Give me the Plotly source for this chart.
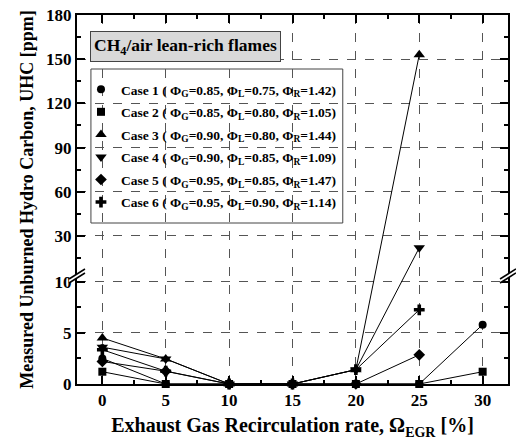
import plotly.graph_objects as go

# ---------------- data ----------------
egr = [0, 5, 10, 15, 20, 25, 30]
case1 = [2.5, 0, 0, 0, 0, 0, 5.8]
case2 = [1.2, 0, 0, 0, 0, 0, 1.2]
case3 = [4.5, 2.45, 0, 0, 1.4, 153, None]
case4 = [3.6, 2.45, 0, 0, 1.4, 22, None]
case5 = [2.2, 1.25, 0, 0, 0, 2.85, None]
case6 = [3.35, 1.25, 0, 0, 1.4, 7.25, None]
names = [
    "Case 1 ( Φ<sub>G</sub>=0.85, Φ<sub>L</sub>=0.75, Φ<sub>R</sub>=1.42)",
    "Case 2 ( Φ<sub>G</sub>=0.85, Φ<sub>L</sub>=0.80, Φ<sub>R</sub>=1.05)",
    "Case 3 ( Φ<sub>G</sub>=0.90, Φ<sub>L</sub>=0.80, Φ<sub>R</sub>=1.44)",
    "Case 4 ( Φ<sub>G</sub>=0.90, Φ<sub>L</sub>=0.85, Φ<sub>R</sub>=1.09)",
    "Case 5 ( Φ<sub>G</sub>=0.95, Φ<sub>L</sub>=0.85, Φ<sub>R</sub>=1.47)",
    "Case 6 ( Φ<sub>G</sub>=0.95, Φ<sub>L</sub>=0.90, Φ<sub>R</sub>=1.14)",
]
symbols = ["circle", "square", "triangle-up", "triangle-down", "diamond", "cross"]
y_major = [0, 5, 10, 30, 60, 90, 120, 150, 180]
y_minor = [2.5, 7.5, 15, 45, 75, 105, 135, 165]
x_ticks = [0, 5, 10, 15, 20, 25, 30]

# ---------------- broken y-axis transform ----------------
W, H = 516, 442
ML, MR, MT, MB = 77, 6, 15, 58
PW, PH = W - ML - MR, H - MT - MB
BREAK_PX = 109          # pixels from bottom where the axis is broken
LOW_MAX = 10.65         # value at top of lower segment
UP_MIN, UP_MAX = 3.5, 180.0


def T(v):
    if v is None:
        return None
    if v <= LOW_MAX:
        return v * BREAK_PX / LOW_MAX
    return BREAK_PX + (v - UP_MIN) * (PH - BREAK_PX) / (UP_MAX - UP_MIN)


FONT = "Liberation Serif"
SIZES = {"circle": 8, "square": 8, "triangle-up": 10, "triangle-down": 10,
         "diamond": 9, "cross": 9}
fig = go.Figure()
series = [case1, case2, case3, case4, case5, case6]
for s, sym, nm in zip(series, symbols, names):
    msize = SIZES[sym]
    fig.add_trace(go.Scatter(
        x=egr, y=[T(v) for v in s], mode="lines+markers",
        line=dict(color="black", width=1),
        marker=dict(symbol=sym, size=msize, color="black"),
        cliponaxis=False, showlegend=False, connectgaps=False))
    fig.add_trace(go.Scatter(
        x=[None], y=[None], mode="markers", name=nm,
        marker=dict(symbol=sym, size=msize, color="black"),
        legendgroup=nm))


def px_x(p):
    return (p - ML) / PW


def px_y(p):
    return (H - MB - p) / PH


shapes = [
    # legend box
    dict(type="rect", xref="paper", yref="paper",
         x0=px_x(91), x1=px_x(344), y0=px_y(223), y1=px_y(69),
         line=dict(color="#444", width=1), fillcolor="white", layer="between"),
]
# axis break marks
for xc in (77, 510):
    yc = 275
    shapes.append(dict(type="path", xref="paper", yref="paper",
                       path=f"M {px_x(xc-8)},{px_y(yc+4)} L {px_x(xc+8)},{px_y(yc-6)} "
                            f"L {px_x(xc+8)},{px_y(yc-2)} L {px_x(xc-8)},{px_y(yc+8)} Z",
                       fillcolor="white", line=dict(width=0), layer="above"))
    shapes.append(dict(type="line", xref="paper", yref="paper",
                       x0=px_x(xc-8), y0=px_y(yc+4), x1=px_x(xc+8), y1=px_y(yc-6),
                       line=dict(color="black", width=1.5), layer="above"))
    shapes.append(dict(type="line", xref="paper", yref="paper",
                       x0=px_x(xc-8), y0=px_y(yc+8), x1=px_x(xc+8), y1=px_y(yc-2),
                       line=dict(color="black", width=1.5), layer="above"))

axis_common = dict(
    showline=True, linecolor="black", linewidth=2, mirror="ticks",
    ticks="inside", ticklen=8, tickwidth=1.5, tickcolor="black",
    showgrid=True, gridcolor="#555", griddash="dash", gridwidth=1,
    zeroline=False,
    tickfont=dict(family=FONT, size=17, color="black", weight="bold"),
)

fig.update_layout(
    width=W, height=H,
    margin=dict(l=ML, r=MR, t=MT, b=MB),
    paper_bgcolor="white", plot_bgcolor="white",
    shapes=shapes,
    xaxis=dict(**axis_common, range=[-2, 32], tickmode="array", tickvals=x_ticks,
               minor=dict(ticks="inside", ticklen=4, tickwidth=1.5, tickcolor="black",
                          tickmode="linear", tick0=0, dtick=2.5, showgrid=False),
               title=dict(text="Exhaust Gas Recirculation rate, Ω<sub>EGR</sub> [%]",
                          font=dict(family=FONT, size=20, color="black", weight="bold"),
                          standoff=9)),
    yaxis=dict(**axis_common, range=[0, PH], tickmode="array",
               tickvals=[T(v) for v in y_major], ticktext=[str(v) for v in y_major],
               minor=dict(ticks="inside", ticklen=4, tickwidth=1.5, tickcolor="black",
                          tickmode="array", tickvals=[T(v) for v in y_minor], showgrid=False),
               title=dict(text="Measured Unburned Hydro Carbon, UHC [ppm]",
                          font=dict(family=FONT, size=18, color="black", weight="bold"),
                          standoff=8)),
    legend=dict(x=px_x(81), y=px_y(74), xanchor="left", yanchor="top",
                bgcolor="rgba(0,0,0,0)", borderwidth=0,
                font=dict(family=FONT, size=13.5, color="black", weight="bold"),
                tracegroupgap=2, traceorder="grouped"),
    annotations=[dict(
        text="CH<sub>4</sub>/air lean-rich flames", xref="paper", yref="paper",
        x=px_x(186.5), y=px_y(46), xanchor="center", yanchor="middle", showarrow=False,
        font=dict(family=FONT, size=17.5, color="black", weight="bold"),
        bgcolor="#d9d9d9", bordercolor="#444", borderwidth=1, borderpad=3)],
)

fig.write_html("out.html")
